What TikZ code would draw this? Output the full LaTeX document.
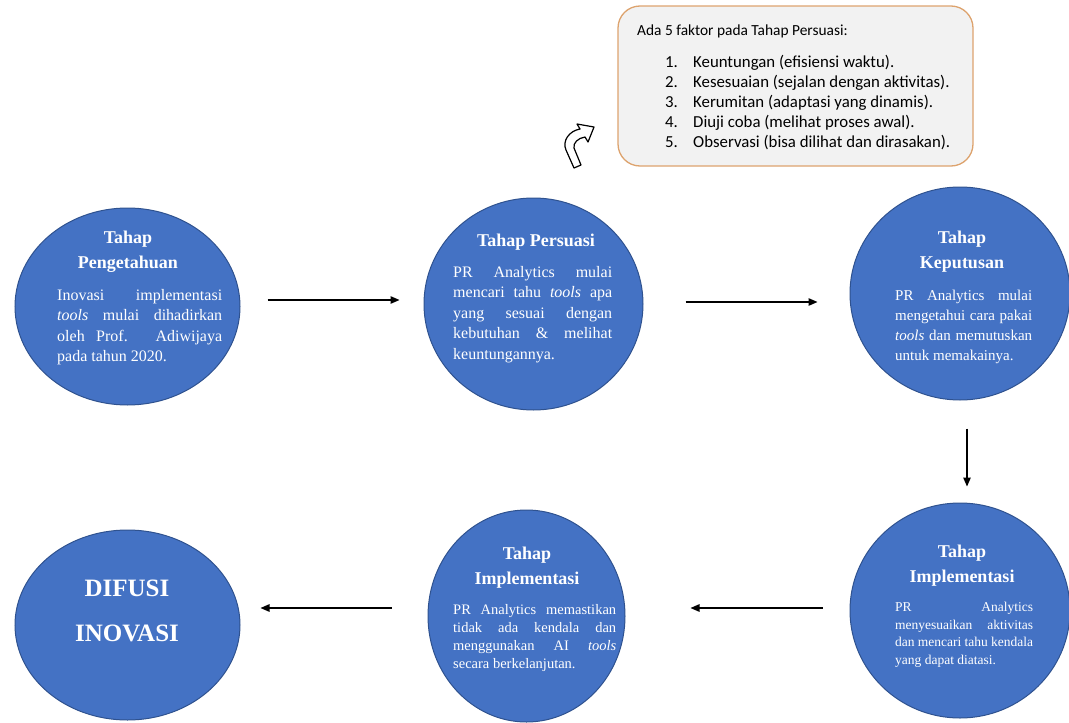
\documentclass[tikz,border=0pt]{standalone}
\usepackage{fontspec}
\setmainfont{Liberation Serif}
\newfontfamily\calib{Carlito}
\usetikzlibrary{shapes.geometric,arrows.meta}
\definecolor{cfill}{HTML}{4472C4}
\definecolor{cedge}{HTML}{2F528F}
\definecolor{boxedge}{HTML}{DDA36E}
\definecolor{boxfill}{HTML}{F2F2F2}
\begin{document}
\begin{tikzpicture}[x=1pt,y=-1pt,
  circ/.style={ellipse, draw=cedge, line width=1pt, fill=cfill, inner sep=0pt},
  ttl/.style={text=white, inner sep=0pt, align=center, anchor=north, font=\bfseries\fontsize{18}{25}\selectfont},
  bdy/.style={text=white, inner sep=0pt, align=justify, anchor=north west},
  arr/.style={line width=1.2pt, -{Triangle[length=9pt,width=7.5pt]}},
]
\useasboundingbox (0,0) rectangle (1069,723);
% circles
\node[circ, minimum width=225pt, minimum height=197pt] (c1) at (127.5,306.5) {};
\node[circ, minimum width=219pt, minimum height=212pt] (c2) at (533.5,304) {};
\node[circ, minimum width=220pt, minimum height=213pt] (c3) at (960,293.5) {};
\node[circ, minimum width=197pt, minimum height=212pt] (c4) at (526.5,616) {};
\node[circ, minimum width=220pt, minimum height=215pt] (c5) at (960,610.5) {};
\node[circ, minimum width=225pt, minimum height=190pt] (c6) at (127.5,625) {};
% texts
\node[ttl] (t1) at (128,230.5) {Tahap\\Pengetahuan};
\node[bdy, text width=165pt, font=\fontsize{16}{20.5}\selectfont] (b1) at (57,289)
  {Inovasi implementasi\linebreak \textit{tools} mulai dihadirkan\linebreak oleh Prof. Adiwijaya\linebreak pada tahun 2020.};
\node[ttl] (t2) at (536,233.5) {Tahap Persuasi};
\node[bdy, text width=159pt, font=\fontsize{16}{20.5}\selectfont] (b2) at (453,266)
  {PR Analytics mulai\linebreak mencari tahu \textit{tools} apa\linebreak yang sesuai dengan\linebreak kebutuhan \& melihat\linebreak keuntungannya.};
\node[ttl] (t3) at (962,230.5) {Tahap\\Keputusan};
\node[bdy, text width=137pt, font=\fontsize{15}{20}\selectfont] (b3) at (895,290)
  {PR Analytics mulai\linebreak mengetahui cara pakai\linebreak \textit{tools} dan memutuskan\linebreak untuk memakainya.};
\node[ttl] (t4) at (527,546.5) {Tahap\\Implementasi};
\node[bdy, text width=163pt, font=\fontsize{14.5}{18}\selectfont] (b4) at (453,604)
  {PR Analytics memastikan\linebreak tidak ada kendala dan\linebreak menggunakan AI \textit{tools}\linebreak secara berkelanjutan.};
\node[ttl] (t5) at (962,544.5) {Tahap\\Implementasi};
\node[bdy, text width=138pt, font=\fontsize{13.5}{17.7}\selectfont] (b5) at (895,602)
  {PR Analytics\linebreak menyesuaikan aktivitas\linebreak dan mencari tahu kendala\linebreak yang dapat diatasi.};
\node[ttl, font=\bfseries\fontsize{25}{45}\selectfont] (t6) at (127,579.5) {DIFUSI\\INOVASI};
% arrows
\draw[arr] ([xshift=27pt,yshift=6.5pt]c1.east) -- ([xshift=-24pt,yshift=4pt]c2.west);
\draw[arr] ([xshift=42pt,yshift=2pt]c2.east) -- ([xshift=-32pt,yshift=-8.5pt]c3.west);
\draw[arr] ([xshift=7pt,yshift=-28pt]c3.south) -- ([xshift=7pt,yshift=16pt]c5.north);
\draw[arr] ([xshift=-27pt,yshift=2.5pt]c5.west) -- ([xshift=65pt,yshift=8pt]c4.east);
\draw[arr] ([xshift=-36pt,yshift=8pt]c4.west) -- ([xshift=20pt,yshift=17pt]c6.east);
% callout
\node[draw=boxedge, line width=1.3pt, fill=boxfill, rounded corners=22pt,
      minimum width=355pt, minimum height=160pt, inner sep=0pt] (box) at (795.5,86) {};
\node[anchor=base west, inner sep=0pt, font=\calib\fontsize{15.4}{20}\selectfont] (hd) at (637,35)
  {Ada 5 faktor pada Tahap Persuasi:};
\node[anchor=north west, inner sep=0pt, align=left, font=\calib\fontsize{16.8}{20}\selectfont] (lst) at (665,55)
  {\makebox[28pt][l]{1.}Keuntungan (efisiensi waktu).\\
   \makebox[28pt][l]{2.}Kesesuaian (sejalan dengan aktivitas).\\
   \makebox[28pt][l]{3.}Kerumitan (adaptasi yang dinamis).\\
   \makebox[28pt][l]{4.}Diuji coba (melihat proses awal).\\
   \makebox[28pt][l]{5.}Observasi (bisa dilihat dan dirasakan).};
% curved block arrow
\draw[line width=1.2pt, fill=white, line join=round]
  (574,168) -- (566,150) .. controls (562,141) and (569,131) .. (580,129)
  -- (577,124) -- (594,127) -- (588,142) -- (585,137)
  .. controls (578,138) and (573,143) .. (574,148) -- (581,165) -- cycle;
\end{tikzpicture}
\end{document}
